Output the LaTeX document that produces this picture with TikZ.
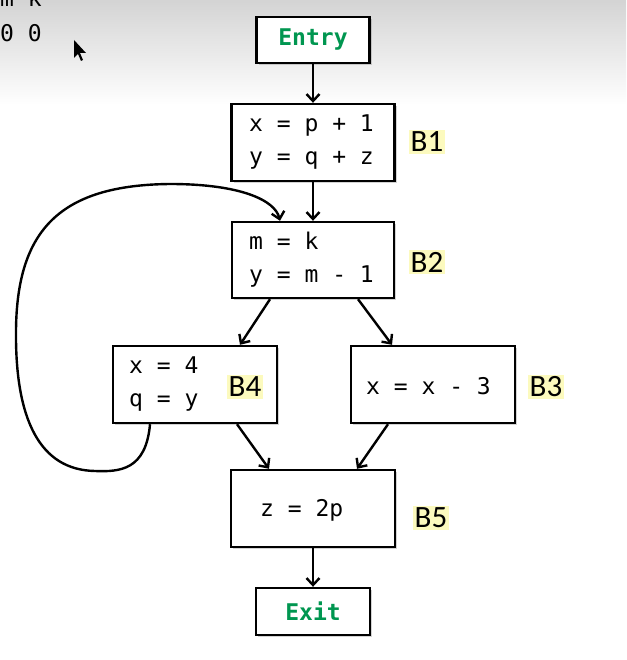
\documentclass[tikz,border=0pt]{standalone}
\usepackage{fontspec}
\setmainfont{Carlito}
\newfontfamily\cmono{DejaVu Sans Mono}
\usetikzlibrary{shadows,arrows.meta}
\definecolor{grn}{RGB}{0,150,80}
\definecolor{hl}{RGB}{252,250,190}
\begin{document}
\begin{tikzpicture}[x=1pt,y=-1pt,
  blk/.style={draw,line width=2.4pt,fill=white,inner sep=0pt,
    drop shadow={opacity=0.35,shadow xshift=2pt,shadow yshift=-2pt}},
  code/.style={font=\cmono\fontsize{23}{33}\selectfont,align=left,anchor=west,inner sep=0pt},
  ent/.style={font=\cmono\bfseries\fontsize{23}{26}\selectfont,text=grn},
  lab/.style={font=\fontsize{31}{32}\selectfont,fill=hl,inner sep=2pt},
  arr/.style={-{Straight Barb[length=7pt,width=13pt]},line width=2.4pt}]
\useasboundingbox (0,0) rectangle (626,660);
\shade[top color=black!17,bottom color=white] (0,0) rectangle (626,105);
\node[font=\cmono\fontsize{23}{26}\selectfont,anchor=west,inner sep=0pt] (mk) at (0,-2) {m k};
\node[font=\cmono\fontsize{23}{26}\selectfont,anchor=west,inner sep=0pt] (zz) at (0,33) {0 0};
\fill[black] (74,40) -- (74,58) -- (78,54) -- (81,61) -- (83,60) -- (80,53) -- (86,53) -- cycle;
% boxes
\node[blk,minimum width=113pt,minimum height=46pt] (entry) at (313,40) {};
\node[ent] (entryt) at (entry) {Entry};
\node[blk,minimum width=163pt,minimum height=77pt] (b1) at (313,142.5) {};
\node[code] (b1t) at (249,142.5) {x = p + 1\\y = q + z};
\node[blk,minimum width=162pt,minimum height=76pt] (b2) at (313,260) {};
\node[code] (b2t) at (249,260) {m = k\\y = m - 1};
\node[blk,minimum width=164pt,minimum height=77pt] (b4) at (195,384.5) {};
\node[code] (b4t) at (129,384.5) {x = 4\\q = y};
\node[blk,minimum width=164pt,minimum height=77pt] (b3) at (433,384.5) {};
\node[code] (b3t) at (366,386) {x = x - 3};
\node[blk,minimum width=164pt,minimum height=77pt] (b5) at (313,508.5) {};
\node[code] (b5t) at (260,510) {z = 2p};
\node[blk,minimum width=114pt,minimum height=47pt] (exit) at (313,611.5) {};
\node[ent] (exitt) at (exit) {Exit};
% labels
\node[lab] (l1) at (427,142) {B1};
\node[lab] (l2) at (427,262) {B2};
\node[lab] (l4) at (245,387) {B4};
\node[lab] (l3) at (546,387) {B3};
\node[lab] (l5) at (431,518) {B5};
% arrows
\draw[arr] (entry.south) -- (b1.north);
\draw[arr] (b1.south) -- (b2.north);
\draw[arr] ([xshift=-43pt]b2.south) -- ([xshift=45pt]b4.north);
\draw[arr] ([xshift=45pt]b2.south) -- ([xshift=-41pt]b3.north);
\draw[arr] ([xshift=42pt]b4.south) -- ([xshift=-44pt]b5.north);
\draw[arr] ([xshift=-45pt]b3.south) -- ([xshift=44pt]b5.north);
\draw[arr] (b5.south) -- (exit.north);
\coordinate (lp) at ([xshift=-45pt]b4.south);
\draw[line width=2.4pt,-{Straight Barb[length=7pt,width=13pt]}] (lp) .. controls (146,470) and (120,472) .. (95,471)
  .. controls (40,470) and (15,420) .. (16,330)
  .. controls (17,230) and (60,185) .. (170,184)
  .. controls (240,184) and (275,200) .. ([xshift=-33pt]b2.north);
\end{tikzpicture}
\end{document}
